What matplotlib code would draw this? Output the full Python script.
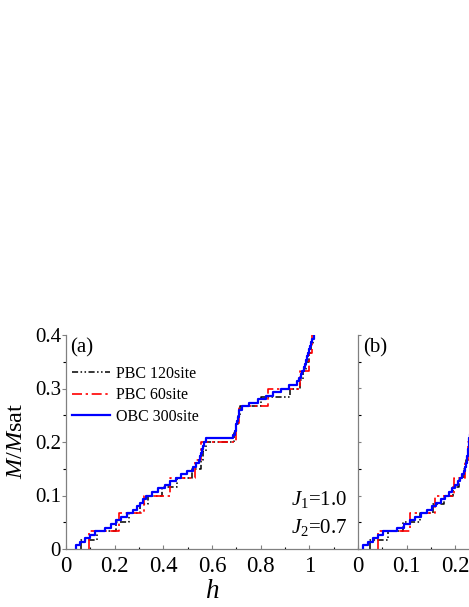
import matplotlib
matplotlib.use("Agg")
import matplotlib.pyplot as plt
from matplotlib.ticker import MultipleLocator, FixedLocator

plt.rcParams['font.family'] = ['Liberation Serif', 'DejaVu Serif']
plt.rcParams['mathtext.fontset'] = 'custom'
plt.rcParams['mathtext.it'] = 'Liberation Serif:italic'
plt.rcParams['mathtext.rm'] = 'Liberation Serif'

# ---------------- data ----------------
labels = ["PBC 120site", "PBC 60site", "OBC 300site"]

# magnetization levels (M/Msat) reached at each step
m_obc = [0.0067, 0.0133, 0.0200, 0.0267, 0.0333, 0.0400, 0.0467, 0.0533, 0.0600, 0.0667,
         0.0733, 0.0800, 0.0867, 0.0933, 0.1000, 0.1067, 0.1133, 0.1200, 0.1267, 0.1333,
         0.1400, 0.1467, 0.1533, 0.1600, 0.1667, 0.1733, 0.1800, 0.1867, 0.1933, 0.2000,
         0.2067, 0.2133, 0.2200, 0.2267, 0.2333, 0.2400, 0.2467, 0.2533, 0.2600, 0.2667,
         0.2733, 0.2800, 0.2867, 0.2933, 0.3000, 0.3067, 0.3133, 0.3200, 0.3267, 0.3333,
         0.3400, 0.3467, 0.3533, 0.3600, 0.3667, 0.3733, 0.3800, 0.3867, 0.3933, 0.4000]
m_pbc60 = [0.0333, 0.0667, 0.1000, 0.1333, 0.1667, 0.2000, 0.2333, 0.2667, 0.3000,
           0.3333, 0.3667, 0.4000]
m_pbc120 = [0.0167, 0.0333, 0.0500, 0.0667, 0.0833, 0.1000, 0.1167, 0.1333, 0.1500,
            0.1667, 0.1833, 0.2000, 0.2167, 0.2333, 0.2500, 0.2667, 0.2833, 0.3000,
            0.3167, 0.3333, 0.3500, 0.3667, 0.3833, 0.4000]

# panel (a): field h at which each step occurs
h_a_obc = [0.041, 0.057, 0.079, 0.098, 0.120, 0.161, 0.184, 0.205, 0.228, 0.250,
           0.275, 0.292, 0.306, 0.318, 0.330, 0.352, 0.380, 0.405, 0.426, 0.450,
           0.474, 0.497, 0.522, 0.536, 0.546, 0.551, 0.555, 0.559, 0.563, 0.568,
           0.574, 0.688, 0.693, 0.697, 0.700, 0.703, 0.706, 0.709, 0.712, 0.722,
           0.752, 0.790, 0.822, 0.852, 0.885, 0.918, 0.948, 0.958, 0.965, 0.971,
           0.977, 0.983, 0.988, 0.992, 0.995, 0.998, 1.003, 1.008, 1.013, 1.019]
h_a_pbc60 = [0.093, 0.219, 0.322, 0.426, 0.529, 0.556, 0.700, 0.712, 0.830, 0.962,
             0.998, 1.013]
h_a_pbc120 = [0.062, 0.128, 0.205, 0.258, 0.305, 0.338, 0.395, 0.458, 0.518, 0.553,
              0.562, 0.574, 0.692, 0.700, 0.707, 0.716, 0.800, 0.920, 0.962, 0.975,
              0.988, 0.997, 1.008, 1.017]

# panel (b)
h_b_obc = [0.010, 0.020, 0.030, 0.041, 0.051, 0.081, 0.094, 0.106, 0.118, 0.130,
           0.141, 0.152, 0.161, 0.170, 0.178, 0.186, 0.193, 0.199, 0.205, 0.210,
           0.214, 0.218, 0.220, 0.222, 0.2235, 0.2245, 0.2255, 0.2263, 0.2270, 0.2277,
           0.2285, 0.2295]
h_b_pbc60 = [0.042, 0.107, 0.158, 0.198, 0.219, 0.226, 0.2295]
h_b_pbc120 = [0.024, 0.062, 0.093, 0.127, 0.155, 0.177, 0.195, 0.208, 0.217, 0.222,
              0.2255, 0.2275, 0.2295]

x_ticks_a = [0, 0.2, 0.4, 0.6, 0.8, 1.0]
x_ticklabels_a = ["0", "0.2", "0.4", "0.6", "0.8", "1"]
x_ticks_b = [0, 0.1, 0.2]
x_ticklabels_b = ["0", "0.1", "0.2"]
y_ticks = [0, 0.1, 0.2, 0.3, 0.4]
y_ticklabels = ["0", "0.1", "0.2", "0.3", "0.4"]

# ---------------- styles ----------------
c_black, c_red, c_blue = "black", "#ff0000", "#0000ff"
ls_black = (0, (4, 1.6, 1, 1.6, 1, 1.6))
ls_red = (0, (6, 2.2, 1.4, 2.2))
spine_c = "#808080"


def stairs(ax, hs, ms, **kw):
    xs = [hs[0]] + list(hs)
    ys = [0.0] + list(ms[:len(hs)])
    return ax.plot(xs, ys, drawstyle="steps-post", **kw)[0]


W, H = 469, 607
fig = plt.figure(figsize=(W / 100, H / 100), dpi=100)
ax_a = fig.add_axes([66 / W, 1 - 549 / H, (358 - 66) / W, (549 - 335) / H])
ax_b = fig.add_axes([358 / W, 1 - 549 / H, (469 - 358) / W, (549 - 335) / H])

for ax, hb, hr, hbl in [(ax_a, h_a_pbc120, h_a_pbc60, h_a_obc),
                        (ax_b, h_b_pbc120, h_b_pbc60, h_b_obc)]:
    stairs(ax, hb, m_pbc120, color=c_black, lw=1.1, ls=ls_black, label=labels[0])
    stairs(ax, hr, m_pbc60, color=c_red, lw=1.2, ls=ls_red, label=labels[1])
    stairs(ax, hbl, m_obc, color=c_blue, lw=1.6, ls="-", label=labels[2])
    ax.set_ylim(0, 0.4)
    for s in ["top", "right"]:
        ax.spines[s].set_visible(False)
    for s in ["left", "bottom"]:
        ax.spines[s].set_color(spine_c)
        ax.spines[s].set_linewidth(0.9)
    ax.tick_params(colors=spine_c, labelcolor="black")

# panel a axes
ax_a.set_xlim(0, 1.2)
ax_a.xaxis.set_major_locator(FixedLocator(x_ticks_a))
ax_a.set_xticklabels(x_ticklabels_a)
ax_a.xaxis.set_minor_locator(MultipleLocator(0.1))
ax_a.yaxis.set_major_locator(FixedLocator(y_ticks))
ax_a.set_yticklabels(y_ticklabels)
ax_a.yaxis.set_minor_locator(MultipleLocator(0.05))
ax_a.tick_params(axis="x", which="major", direction="in", length=2.6, width=0.8,
                 labelsize=16.5, pad=5)
ax_a.tick_params(axis="x", which="minor", direction="in", length=1.8, width=0.8)
ax_a.tick_params(axis="y", which="major", direction="out", length=3.1, width=0.8,
                 labelsize=15, pad=0.5)
ax_a.tick_params(axis="y", which="minor", direction="out", length=2.2, width=0.8)

# panel b axes
ax_b.set_xlim(0, 111 / 487)
ax_b.xaxis.set_major_locator(FixedLocator(x_ticks_b))
ax_b.set_xticklabels(x_ticklabels_b)
ax_b.xaxis.set_minor_locator(MultipleLocator(0.05))
ax_b.yaxis.set_major_locator(MultipleLocator(0.1))
ax_b.yaxis.set_minor_locator(MultipleLocator(0.05))
ax_b.tick_params(axis="x", which="major", direction="in", length=2.6, width=0.8,
                 labelsize=16.5, pad=5)
ax_b.tick_params(axis="x", which="minor", direction="in", length=1.8, width=0.8)
ax_b.tick_params(axis="y", which="both", direction="in", length=2.0, width=0.8,
                 labelleft=False)

# legend
leg = ax_a.legend(loc="upper left", bbox_to_anchor=(0.02, 0.855), frameon=False,
                  fontsize=11.5, handlelength=2.4, handletextpad=0.35,
                  labelspacing=0.33, borderpad=0, borderaxespad=0)

# annotations
ax_a.text(4 / 292, 1 - 13 / 214, "(a)", transform=ax_a.transAxes, fontsize=15,
          ha="left", va="center")
ax_b.text(5 / 111, 1 - 13 / 214, "(b)", transform=ax_b.transAxes, fontsize=15,
          ha="left", va="center")
ax_a.text(1 - 11 / 292, (549 - 500) / 214, r"$J_1$=1.0", transform=ax_a.transAxes,
          fontsize=15, ha="right", va="center")
ax_a.text(1 - 11 / 292, (549 - 527) / 214, r"$J_2$=0.7", transform=ax_a.transAxes,
          fontsize=15, ha="right", va="center")

fig.text(16.7 / W, 1 - 441 / H, r"$M/M$sat", rotation=90, fontsize=17.5,
         ha="center", va="center")
fig.text(212 / W, 1 - 592 / H, r"$h$", fontsize=19.5, ha="center", va="center")

fig.savefig("out.png", dpi=100)
